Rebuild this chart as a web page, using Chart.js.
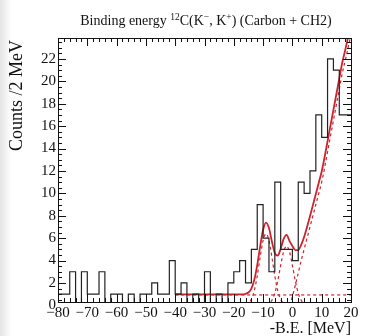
<!DOCTYPE html>
<html><head><meta charset="utf-8">
<script src="https://cdn.jsdelivr.net/npm/chart.js@4.4.1/dist/chart.umd.min.js"></script>
<style>
html,body{margin:0;padding:0;background:#fff;}
#wrap{position:relative;width:392px;height:336px;background:linear-gradient(to right,#e4e4e4 0px,#efefef 5px,#fafafa 9px,#fff 12px);}
canvas{display:block;position:absolute;left:0;top:0;}
</style></head><body><div id="wrap"><canvas id="c" width="392" height="336"></canvas></div>
<script>
// Histogram: bin low edges (MeV) and counts per 2 MeV
const binEdges = [-80,-78,-76,-74,-72,-70,-68,-66,-64,-62,-60,-58,-56,-54,-52,-50,-48,-46,-44,-42,
  -40,-38,-36,-34,-32,-30,-28,-26,-24,-22,-20,-18,-16,-14,-12,-10,-8,-6,-4,-2,0,2,4,6,8,10,12,14,16,18,20];
const counts = [1,1,1,3,0,3,1,1,3,0,1,1,0,1,0,1,1,2,1,1,
  4,1,2,0,1,0,3,0,1,0,2,3,4,2,5,9,6,3,11,5,5,4,11,10,12,17,15,22,21,17];

// Fit curves
const fitX = [-40,-17,-16,-15,-14,-13,-12,-11,-10,-9,-8,-7,-6,-5,-4,-3,-2,-1,0,1,2,3,4,5,6,7,8,9,10,11,12,13,14,15,16,17,18,19,20];
const fitTotal = [0.98,0.98,1.03,1.15,1.5,2.28,3.6,5.27,6.75,7.39,6.9,5.7,4.67,4.45,5.06,5.93,6.3,5.76,5.3,4.93,4.94,5.4,6.1,7.0,7.95,8.95,9.95,10.95,11.95,13.25,14.65,16.05,17.45,18.85,20.25,21.65,22.75,23.95,25.15];
const bgX = [-40,20];
const bgY = [0.93,0.93];
const g1X = [-16,-15,-14,-13,-12,-11,-10,-9,-8,-7,-6,-5,-4,-3,-2];
const g1Y = [0.05,0.18,0.54,1.32,2.63,4.31,5.8,6.4,5.8,4.31,2.63,1.32,0.54,0.18,0.05];
const g2X = [-9,-8,-7,-6,-5,-4,-3,-2,-1,0,1,2,3,4,5];
const g2Y = [0.04,0.15,0.45,1.09,2.18,3.57,4.8,5.3,4.8,3.57,2.18,1.09,0.45,0.15,0.04];
const qfX = [-1,0,1,2,3,4,5,6,7,8,9,10,11,12,13,14,15,16,17,18,19,20];
const qfY = [0,0.8,1.8,2.9,4.0,5.0,6.0,7.0,8.0,9.0,10.0,11.0,12.3,13.7,15.1,16.5,17.9,19.3,20.7,21.8,23.0,24.2];

const yTicks = [0,2,4,6,8,10,12,14,16,18,20,22];
const xTicks = [-80,-70,-60,-50,-40,-30,-20,-10,0,10,20];

const RED = 'rgb(205,35,45)';
const FONT = '"Liberation Serif","Times New Roman",serif';

const histPts = counts.map((c,i)=>({x:binEdges[i],y:c}));
histPts.push({x:binEdges[binEdges.length-1], y:counts[counts.length-1]});
const pts = (xs,ys)=>xs.map((x,i)=>({x:x,y:ys[i]}));

const framePlugin = {
  id:'frame',
  afterDatasetsDraw(chart){
    const {ctx, chartArea:a, scales:{x,y}} = chart;
    ctx.save();
    ctx.strokeStyle='#111'; ctx.lineWidth=1;
    ctx.beginPath();
    for(let v=-80; v<=20; v+=2){
      const px=Math.round(x.getPixelForValue(v))+0.5;
      const len = (v%10===0)?8:4;
      ctx.moveTo(px,a.bottom); ctx.lineTo(px,a.bottom-len);
      ctx.moveTo(px,a.top); ctx.lineTo(px,a.top+len);
    }
    for(let v=0.5; v<=23.5; v+=0.5){
      const py=Math.round(y.getPixelForValue(v))+0.5;
      if(py<a.top||py>a.bottom) continue;
      const len = (v%2===0)?8:4;
      ctx.moveTo(a.left,py); ctx.lineTo(a.left+len,py);
      ctx.moveTo(a.right,py); ctx.lineTo(a.right-len,py);
    }
    ctx.stroke();
    ctx.strokeRect(Math.round(a.left)+0.5,Math.round(a.top)+0.5,Math.round(a.right-a.left),Math.round(a.bottom-a.top));
    const segs=[['Binding energy ',14,0],['12',9.5,-5.5],['C(K',14,0],['\u2212',9.5,-5.5],[', K',14,0],['+',9.5,-5.5],[') (Carbon + CH2)',14,0]];
    let w=0; segs.forEach(s=>{ctx.font=s[1]+'px '+FONT; w+=ctx.measureText(s[0]).width;});
    let cx=206-w/2;
    ctx.fillStyle='#111'; ctx.textBaseline='alphabetic'; ctx.textAlign='left';
    segs.forEach(s=>{ctx.font=s[1]+'px '+FONT; ctx.fillText(s[0],cx,25+s[2]); cx+=ctx.measureText(s[0]).width;});
    ctx.font='16px '+FONT;
    ctx.textAlign='right';
    ctx.fillText('-B.E. [MeV]', a.right, 333);
    ctx.save();
    ctx.font='18px '+FONT;
    ctx.translate(22,40); ctx.rotate(-Math.PI/2);
    ctx.textAlign='right'; ctx.fillText('Counts /2 MeV',0,0);
    ctx.restore();
    ctx.restore();
  }
};

new Chart(document.getElementById('c'),{
  type:'line',
  data:{datasets:[
    {data:histPts, stepped:'after', borderColor:'#222', borderWidth:1.2, pointRadius:0, fill:false},
    {data:pts(bgX,bgY), borderColor:RED, borderWidth:1.2, borderDash:[3,3], pointRadius:0},
    {data:pts(g1X,g1Y), borderColor:RED, borderWidth:1.2, borderDash:[3,3], pointRadius:0, cubicInterpolationMode:'monotone'},
    {data:pts(g2X,g2Y), borderColor:RED, borderWidth:1.2, borderDash:[3,3], pointRadius:0, cubicInterpolationMode:'monotone'},
    {data:pts(qfX,qfY), borderColor:RED, borderWidth:1.2, borderDash:[3,3], pointRadius:0, cubicInterpolationMode:'monotone'},
    {data:pts(fitX,fitTotal), borderColor:RED, borderWidth:1.8, pointRadius:0, cubicInterpolationMode:'monotone'}
  ]},
  options:{
    responsive:false, animation:false,
    layout:{padding:{top:38,right:41,left:0,bottom:0}},
    plugins:{legend:{display:false},tooltip:{enabled:false},title:{display:false}},
    scales:{
      x:{type:'linear',min:-80,max:20,
        afterBuildTicks:s=>{s.ticks=xTicks.map(v=>({value:v}));},
        afterFit:s=>{s.height=34;},
        grid:{display:false,drawTicks:false}, border:{display:false},
        ticks:{padding:2,color:'#111',font:{family:FONT,size:15},maxRotation:0,autoSkip:false,
          callback:v=>(v<0?'\u2212'+(-v):''+v)}},
      y:{type:'linear',min:0.3,max:23.87,
        afterBuildTicks:s=>{s.ticks=yTicks.map(v=>({value:v}));},
        afterFit:s=>{s.width=58;},
        grid:{display:false,drawTicks:false}, border:{display:false},
        ticks:{padding:2,color:'#111',font:{family:FONT,size:15},autoSkip:false}}
    }
  },
  plugins:[framePlugin]
});
</script></body></html>
